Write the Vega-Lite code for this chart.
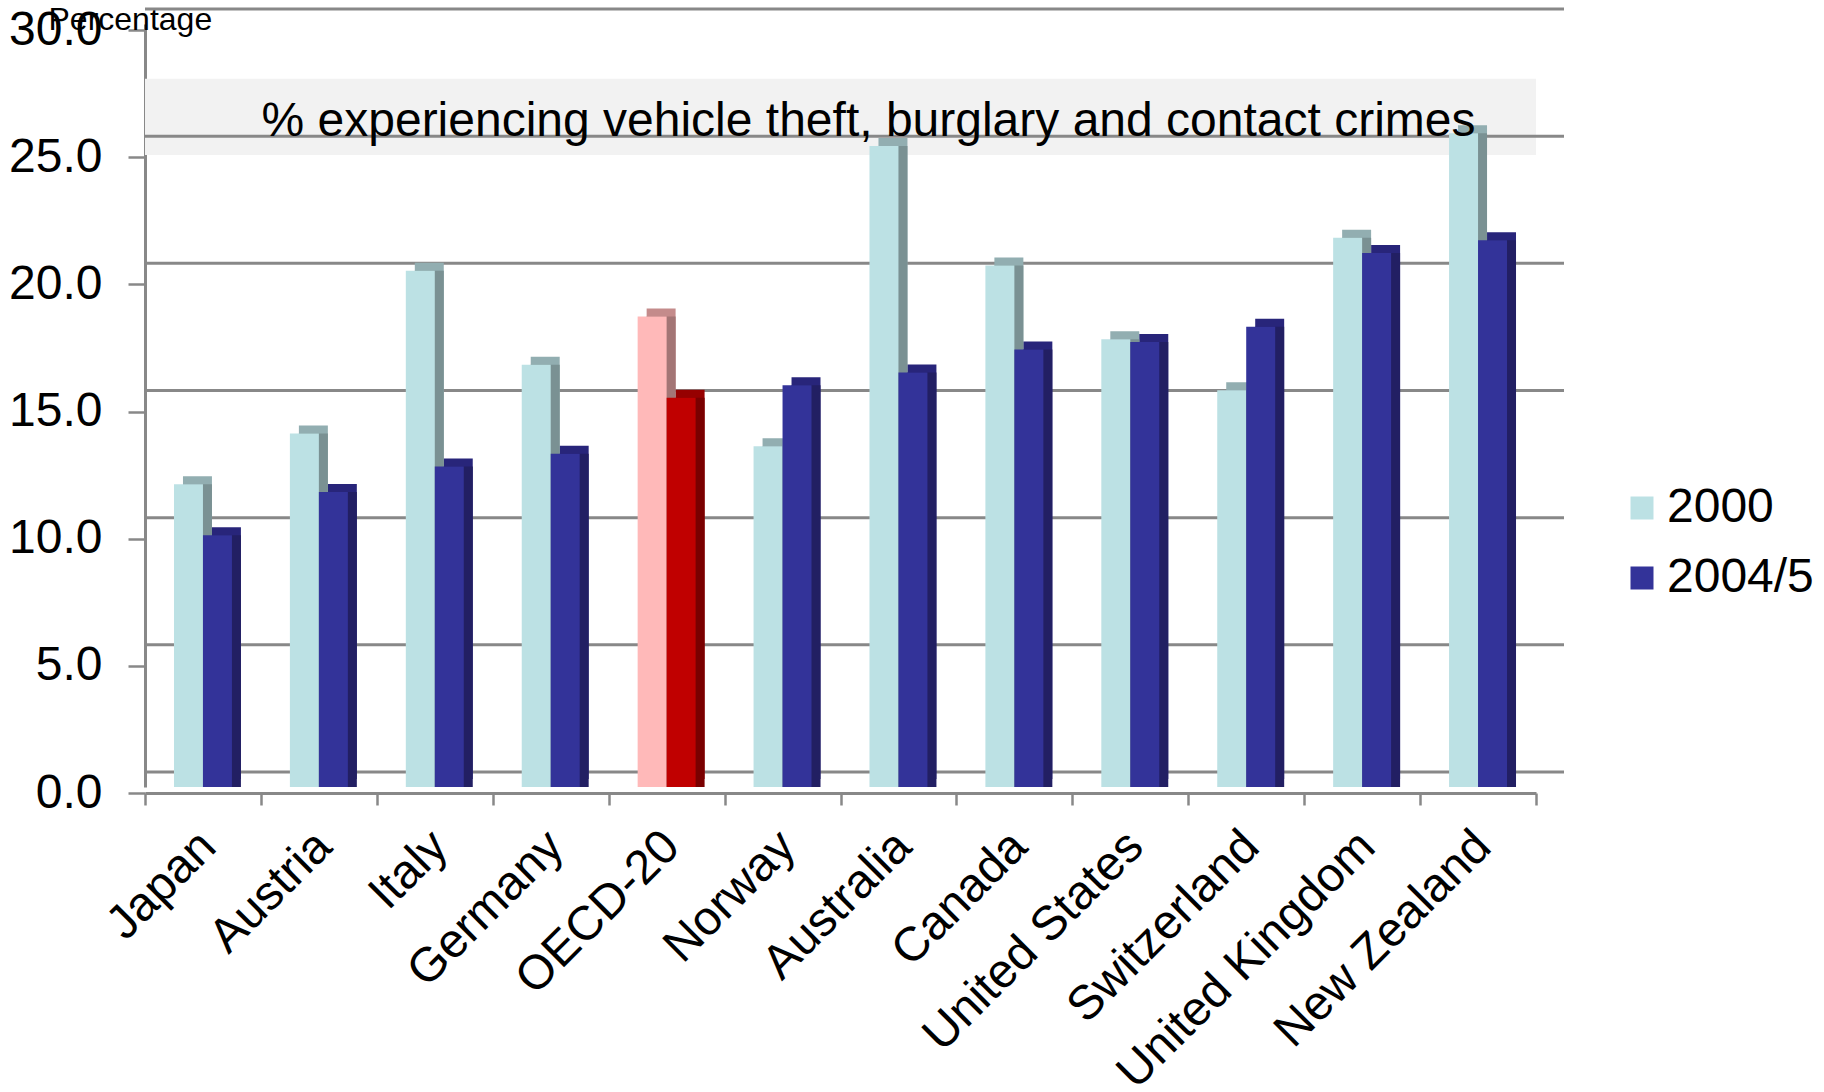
{
  "$schema": "https://vega.github.io/schema/vega-lite/v6.json",
  "autosize": "none",
  "padding": {"left": 145, "top": 24, "right": 288, "bottom": 305},
  "width": 1391,
  "height": 763,
  "background": "white",
  "config": {"font": "Liberation Sans", "view": {"stroke": null}},
  "datasets": {
    "crime": [
      {"country": "Japan", "year": "2000", "pct": 11.9},
      {"country": "Japan", "year": "2004/5", "pct": 9.9},
      {"country": "Austria", "year": "2000", "pct": 13.9},
      {"country": "Austria", "year": "2004/5", "pct": 11.6},
      {"country": "Italy", "year": "2000", "pct": 20.3},
      {"country": "Italy", "year": "2004/5", "pct": 12.6},
      {"country": "Germany", "year": "2000", "pct": 16.6},
      {"country": "Germany", "year": "2004/5", "pct": 13.1},
      {"country": "OECD-20", "year": "2000", "pct": 18.5},
      {"country": "OECD-20", "year": "2004/5", "pct": 15.3},
      {"country": "Norway", "year": "2000", "pct": 13.4},
      {"country": "Norway", "year": "2004/5", "pct": 15.8},
      {"country": "Australia", "year": "2000", "pct": 25.2},
      {"country": "Australia", "year": "2004/5", "pct": 16.3},
      {"country": "Canada", "year": "2000", "pct": 20.5},
      {"country": "Canada", "year": "2004/5", "pct": 17.2},
      {"country": "United States", "year": "2000", "pct": 17.6},
      {"country": "United States", "year": "2004/5", "pct": 17.5},
      {"country": "Switzerland", "year": "2000", "pct": 15.6},
      {"country": "Switzerland", "year": "2004/5", "pct": 18.1},
      {"country": "United Kingdom", "year": "2000", "pct": 21.6},
      {"country": "United Kingdom", "year": "2004/5", "pct": 21.0},
      {"country": "New Zealand", "year": "2000", "pct": 25.7},
      {"country": "New Zealand", "year": "2004/5", "pct": 21.5}
    ],
    "gridlines": [{"v": 0}, {"v": 5}, {"v": 10}, {"v": 15}, {"v": 20}, {"v": 25}, {"v": 30}],
    "note": [{"label": "% experiencing vehicle theft, burglary and contact crimes"}]
  },
  "resolve": {"scale": {"xOffset": "independent"}},
  "layer": [
    {
      "data": {"name": "note"},
      "mark": {"type": "rect", "fill": "#f2f2f2"},
      "encoding": {
        "y": {
          "datum": 24.85, "type": "quantitative", "scale": {"domain": [0, 30], "nice": false},
          "axis": {
            "values": [0, 5, 10, 15, 20, 25, 30], "format": ".1f",
            "labelFontSize": 48, "labelColor": "black", "tickSize": 17, "tickColor": "#888888",
            "tickWidth": 2.5, "tickOffset": 6, "labelPadding": 26, "domainColor": "#888888",
            "domainWidth": 3, "grid": false,
            "title": "Percentage", "titleAngle": 0, "titleAlign": "left", "titleBaseline": "alphabetic",
            "titleX": -97, "titleY": 5, "titleFontSize": 32, "titleFontWeight": "normal", "titleColor": "black"
          }
        },
        "y2": {"datum": 27.85}
      }
    },
    {
      "data": {"name": "gridlines"},
      "mark": {"type": "rule", "color": "#888888", "strokeWidth": 3, "xOffset": 28, "x2Offset": 28, "yOffset": -15},
      "encoding": {
        "y": {
          "field": "v", "type": "quantitative",
          "axis": {
            "values": [0, 5, 10, 15, 20, 25, 30], "format": ".1f",
            "labelFontSize": 48, "labelColor": "black", "tickSize": 17, "tickColor": "#888888",
            "tickWidth": 2.5, "tickOffset": 6, "labelPadding": 26, "domainColor": "#888888",
            "domainWidth": 3, "grid": false,
            "title": "Percentage", "titleAngle": 0, "titleAlign": "left", "titleBaseline": "alphabetic",
            "titleX": -97, "titleY": 5, "titleFontSize": 32, "titleFontWeight": "normal", "titleColor": "black"
          }
        }
      }
    },
    {
      "data": {"name": "crime"},
      "mark": {"type": "bar", "yOffset": -8},
      "encoding": {
        "x": {
          "field": "country", "type": "nominal", "sort": null, "scale": {"paddingInner": 0, "paddingOuter": 0},
          "axis": {
            "title": null, "labelAngle": -45, "labelFontSize": 48, "labelColor": "black", "labelLimit": 0,
            "labelOffset": -12, "tickBand": "extent", "tickSize": 12, "tickColor": "#888888", "tickWidth": 2.5,
            "domainColor": "#888888", "domainWidth": 3, "offset": 6, "labelPadding": 17, "grid": false
          }
        },
        "xOffset": {"field": "year", "type": "nominal", "scale": {"paddingInner": 0, "paddingOuter": 1, "range": [9, 124.9]}},
        "y": {
          "field": "pct", "type": "quantitative",
          "axis": {
            "values": [0, 5, 10, 15, 20, 25, 30], "format": ".1f",
            "labelFontSize": 48, "labelColor": "black", "tickSize": 17, "tickColor": "#888888",
            "tickWidth": 2.5, "tickOffset": 6, "labelPadding": 26, "domainColor": "#888888",
            "domainWidth": 3, "grid": false,
            "title": "Percentage", "titleAngle": 0, "titleAlign": "left", "titleBaseline": "alphabetic",
            "titleX": -97, "titleY": 5, "titleFontSize": 32, "titleFontWeight": "normal", "titleColor": "black"
          }
        },
        "color": {
          "condition": [
            {"test": "datum.country === 'OECD-20' && datum.year === '2000'", "value": "#C48B8B"},
            {"test": "datum.country === 'OECD-20'", "value": "#960000"},
            {"test": "datum.year === '2000'", "value": "#92AEB1"}
          ],
          "value": "#28257A"
        }
      }
    },
    {
      "data": {"name": "crime"},
      "mark": {"type": "bar"},
      "encoding": {
        "x": {
          "field": "country", "type": "nominal", "sort": null,
          "axis": {
            "title": null, "labelAngle": -45, "labelFontSize": 48, "labelColor": "black", "labelLimit": 0,
            "labelOffset": -12, "tickBand": "extent", "tickSize": 12, "tickColor": "#888888", "tickWidth": 2.5,
            "domainColor": "#888888", "domainWidth": 3, "offset": 6, "labelPadding": 17, "grid": false
          }
        },
        "xOffset": {"field": "year", "type": "nominal", "scale": {"paddingInner": 0, "paddingOuter": 1, "range": [9, 124.9]}},
        "y": {
          "field": "pct", "type": "quantitative",
          "axis": {
            "values": [0, 5, 10, 15, 20, 25, 30], "format": ".1f",
            "labelFontSize": 48, "labelColor": "black", "tickSize": 17, "tickColor": "#888888",
            "tickWidth": 2.5, "tickOffset": 6, "labelPadding": 26, "domainColor": "#888888",
            "domainWidth": 3, "grid": false,
            "title": "Percentage", "titleAngle": 0, "titleAlign": "left", "titleBaseline": "alphabetic",
            "titleX": -97, "titleY": 5, "titleFontSize": 32, "titleFontWeight": "normal", "titleColor": "black"
          }
        },
        "color": {
          "condition": [
            {"test": "datum.country === 'OECD-20' && datum.year === '2000'", "value": "#A37575"},
            {"test": "datum.country === 'OECD-20'", "value": "#7A0000"},
            {"test": "datum.year === '2000'", "value": "#7A9193"}
          ],
          "value": "#221F63"
        }
      }
    },
    {
      "data": {"name": "crime"},
      "mark": {"type": "bar"},
      "encoding": {
        "x": {
          "field": "country", "type": "nominal", "sort": null,
          "axis": {
            "title": null, "labelAngle": -45, "labelFontSize": 48, "labelColor": "black", "labelLimit": 0,
            "labelOffset": -12, "tickBand": "extent", "tickSize": 12, "tickColor": "#888888", "tickWidth": 2.5,
            "domainColor": "#888888", "domainWidth": 3, "offset": 6, "labelPadding": 17, "grid": false
          }
        },
        "xOffset": {"field": "year", "type": "nominal", "scale": {"paddingInner": 0, "paddingOuter": 1}},
        "y": {
          "field": "pct", "type": "quantitative",
          "axis": {
            "values": [0, 5, 10, 15, 20, 25, 30], "format": ".1f",
            "labelFontSize": 48, "labelColor": "black", "tickSize": 17, "tickColor": "#888888",
            "tickWidth": 2.5, "tickOffset": 6, "labelPadding": 26, "domainColor": "#888888",
            "domainWidth": 3, "grid": false,
            "title": "Percentage", "titleAngle": 0, "titleAlign": "left", "titleBaseline": "alphabetic",
            "titleX": -97, "titleY": 5, "titleFontSize": 32, "titleFontWeight": "normal", "titleColor": "black"
          }
        },
        "color": {
          "field": "year", "type": "nominal",
          "scale": {"domain": ["2000", "2004/5"], "range": ["#BCE1E4", "#333399"]},
          "legend": {
            "title": null, "orient": "none", "legendX": 1473, "legendY": 460,
            "labelFontSize": 48, "labelColor": "black", "symbolType": "square", "symbolSize": 529,
            "symbolStrokeWidth": 0, "symbolOpacity": 1, "rowPadding": 22, "labelOffset": 1
          },
          "condition": [
            {"test": "datum.country === 'OECD-20' && datum.year === '2000'", "value": "#FFB9B9"},
            {"test": "datum.country === 'OECD-20'", "value": "#C00000"}
          ]
        }
      }
    },
    {
      "data": {"name": "note"},
      "mark": {"type": "text", "fontSize": 48, "color": "black", "baseline": "middle", "dx": 28},
      "encoding": {
        "text": {"field": "label"},
        "y": {
          "datum": 26.15, "type": "quantitative",
          "axis": {
            "values": [0, 5, 10, 15, 20, 25, 30], "format": ".1f",
            "labelFontSize": 48, "labelColor": "black", "tickSize": 17, "tickColor": "#888888",
            "tickWidth": 2.5, "tickOffset": 6, "labelPadding": 26, "domainColor": "#888888",
            "domainWidth": 3, "grid": false,
            "title": "Percentage", "titleAngle": 0, "titleAlign": "left", "titleBaseline": "alphabetic",
            "titleX": -97, "titleY": 5, "titleFontSize": 32, "titleFontWeight": "normal", "titleColor": "black"
          }
        }
      }
    }
  ]
}
